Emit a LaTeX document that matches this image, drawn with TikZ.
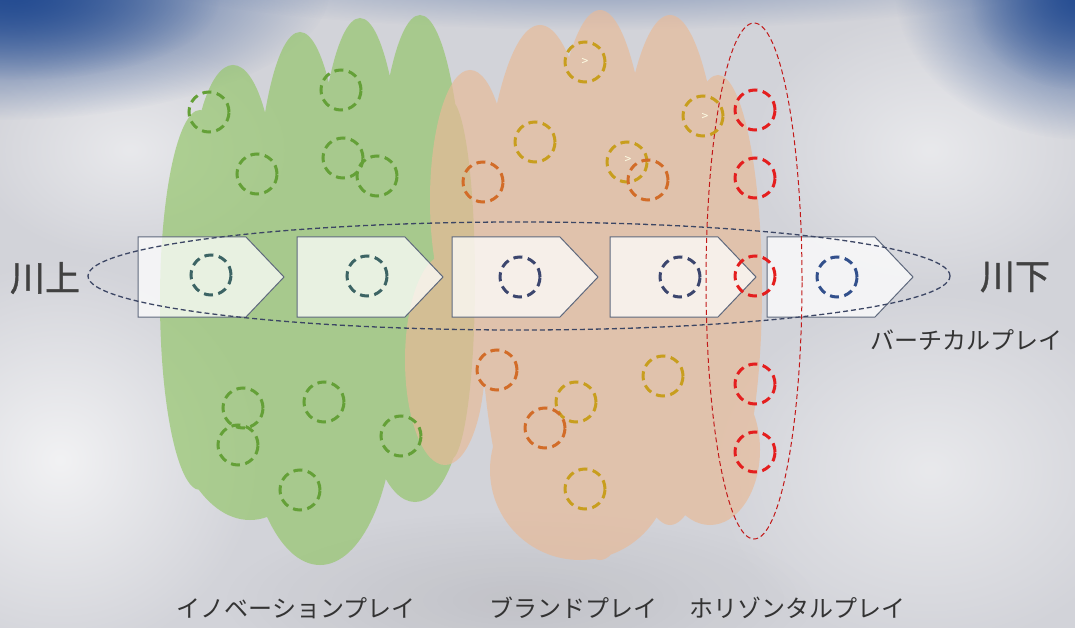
\documentclass[tikz,border=0pt]{standalone}
\usepackage{fontspec}
\newfontfamily\jp{Noto Sans CJK JP}
\newfontfamily\jpm[FakeBold=1.2]{Noto Sans CJK JP}
\usetikzlibrary{fadings}
\definecolor{bgc}{RGB}{210,211,217}
\definecolor{bluec}{RGB}{35,75,145}
\definecolor{greenfill}{RGB}{150,198,110}
\definecolor{peachfill}{RGB}{232,186,152}
\definecolor{boxline}{RGB}{95,105,125}
\definecolor{gcirc}{RGB}{100,160,55}
\definecolor{tcirc}{RGB}{60,100,100}
\definecolor{ncirc}{RGB}{60,70,110}
\definecolor{bcirc}{RGB}{50,80,140}
\definecolor{ycirc}{RGB}{200,158,30}
\definecolor{ocirc}{RGB}{210,108,40}
\definecolor{rcirc}{RGB}{228,30,30}
\definecolor{ellc}{RGB}{60,70,100}
\definecolor{txtc}{RGB}{65,65,65}
\tikzfading[name=softfade, inner color=transparent!0, outer color=transparent!100]
\tikzset{
  dc/.style={line width=3pt, dash pattern=on 9pt off 5.5pt},
  stepbox/.style={draw=boxline, line width=1pt, fill=white, fill opacity=0.74},
  bigtext/.style={font=\jpm\fontsize{35pt}{40pt}\selectfont, text=txtc},
  lbl/.style={font=\jp\fontsize{24pt}{28pt}\selectfont, text=black!80},
  gtmark/.style={font=\jp\fontsize{12pt}{12pt}\selectfont, text=white!90!yellow}
}
\begin{document}
\begin{tikzpicture}[x=1pt,y=-1pt]
\useasboundingbox (0,0) rectangle (1075,628);
\clip (0,0) rectangle (1075,628);
% background
\fill[bgc] (0,0) rectangle (1075,628);
\fill[white, path fading=softfade, opacity=0.7] (60,460) ellipse [x radius=200pt, y radius=200pt];
\fill[white, path fading=softfade, opacity=0.5] (930,470) ellipse [x radius=220pt, y radius=180pt];
\fill[white, path fading=softfade, opacity=0.5] (930,150) ellipse [x radius=180pt, y radius=140pt];
\fill[white, path fading=softfade, opacity=0.5] (130,150) ellipse [x radius=160pt, y radius=110pt];
\fill[black, path fading=softfade, opacity=0.08] (520,600) ellipse [x radius=300pt, y radius=90pt];
\fill[bluec!70!bgc, path fading=softfade, opacity=0.7] (600,-30) ellipse [x radius=480pt, y radius=60pt];
\fill[bluec, path fading=softfade] (0,-10) ellipse [x radius=330pt, y radius=130pt];
\fill[bluec, path fading=softfade, opacity=0.8] (20,0) ellipse [x radius=200pt, y radius=80pt];
\fill[bluec, path fading=softfade] (1085,-10) ellipse [x radius=190pt, y radius=150pt];
\fill[bluec, path fading=softfade, opacity=0.7] (1080,0) ellipse [x radius=110pt, y radius=90pt];
% green cloud
\begin{scope}[transparency group, opacity=0.7]
\fill[greenfill]
  (233,200) ellipse [x radius=42pt, y radius=135pt]
  (300,250) ellipse [x radius=45pt, y radius=218pt]
  (360,250) ellipse [x radius=45pt, y radius=232pt]
  (420,250) ellipse [x radius=45pt, y radius=235pt]
  (200,300) ellipse [x radius=40pt, y radius=190pt]
  (250,370) ellipse [x radius=85pt, y radius=150pt]
  (320,400) ellipse [x radius=75pt, y radius=165pt]
  (415,380) ellipse [x radius=50pt, y radius=122pt]
  (450,280) ellipse [x radius=25pt, y radius=180pt];
\end{scope}
% peach cloud
\begin{scope}[transparency group, opacity=0.68]
\fill[peachfill]
  (470,200) ellipse [x radius=40pt, y radius=130pt]
  (445,360) ellipse [x radius=40pt, y radius=105pt]
  (540,285) ellipse [x radius=60pt, y radius=260pt]
  (600,285) ellipse [x radius=55pt, y radius=275pt]
  (670,270) ellipse [x radius=55pt, y radius=255pt]
  (718,290) ellipse [x radius=44pt, y radius=215pt]
  (580,470) ellipse [x radius=90pt, y radius=90pt]
  (710,450) ellipse [x radius=50pt, y radius=75pt];
\end{scope}
% process boxes
\foreach \L/\n in {138/1,297/2,452/3,610/4,767/5}{
  \path[stepbox] (\L,237) -- (\L+108,237) -- (\L+146,277) -- (\L+108,317) -- (\L,317) -- cycle;
}
% big horizontal dashed ellipse
\draw[ellc, line width=1.3pt, dash pattern=on 5pt off 3pt] (519,276) ellipse [x radius=431pt, y radius=54pt];
% red vertical dashed ellipse
\draw[rcirc!85!black, line width=1pt, dash pattern=on 5pt off 3pt] (754,281) ellipse [x radius=48pt, y radius=258pt];
% circles in boxes
\draw[dc, tcirc] (211,275) circle [radius=20pt];
\draw[dc, tcirc] (367,276) circle [radius=20pt];
\draw[dc, ncirc] (520,277) circle [radius=20pt];
\draw[dc, ncirc] (680,277) circle [radius=20pt];
\draw[dc, bcirc] (837,277) circle [radius=20pt];
% green circles
\foreach \x/\y in {209/112,341/90,257/174,343/158,377/176,243/408,324/402,238/445,401/436,300/490}{
  \draw[dc, gcirc] (\x,\y) circle [radius=20pt];
}
% gold circles
\foreach \x/\y in {585/62,703/116,535/142,627/162,663/376,576/402,585/489}{
  \draw[dc, ycirc] (\x,\y) circle [radius=20pt];
}
% orange circles
\foreach \x/\y in {648/180,483/182,497/370,545/428}{
  \draw[dc, ocirc] (\x,\y) circle [radius=20pt];
}
% red circles
\foreach \y in {110,178,276,384,452}{
  \draw[dc, rcirc] (755,\y) circle [radius=20pt];
}
% small marks
\node[gtmark] (m1) at (585,62) {>};
\node[gtmark] (m2) at (705,117) {>};
\node[gtmark] (m3) at (628,160) {>};
% texts
\node[bigtext] (up) at (45,278) {川上};
\node[bigtext] (down) at (1015,277) {川下};
\node[lbl] (vert) at (966,340) {バーチカルプレイ};
\node[lbl] (inno) at (296,608) {イノベーションプレイ};
\node[lbl] (brand) at (573,608) {ブランドプレイ};
\node[lbl] (hori) at (797,608) {ホリゾンタルプレイ};
\end{tikzpicture}
\end{document}
